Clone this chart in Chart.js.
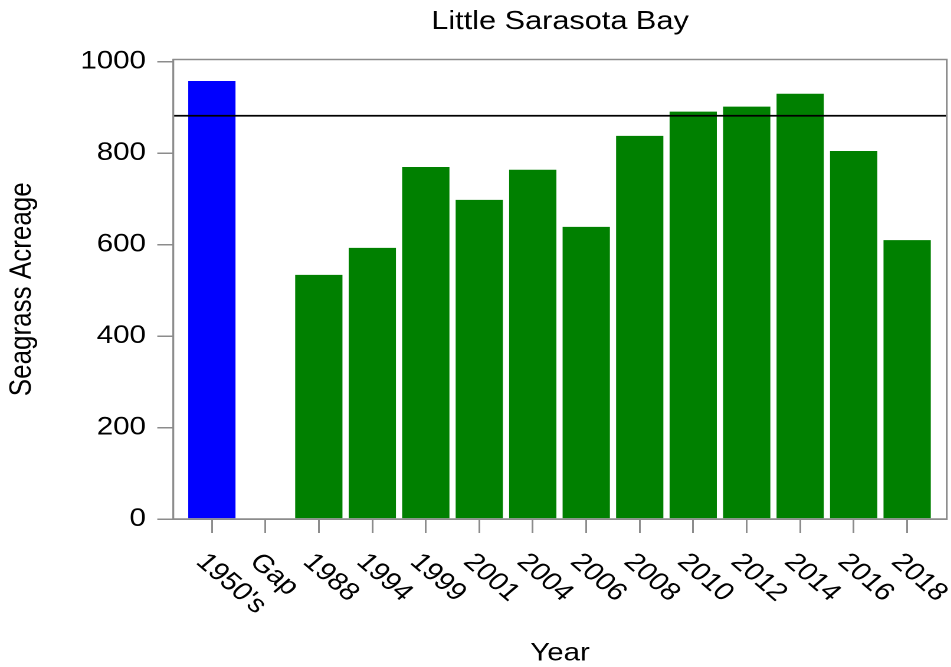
<!DOCTYPE html>
<html>
<head>
<meta charset="utf-8">
<script src="https://cdn.jsdelivr.net/npm/chart.js@4"></script>
<style>
  html, body { margin: 0; padding: 0; background: #fff; overflow: hidden; }
  #wrap { width: 806px; height: 667px; transform: scaleX(1.18); transform-origin: 0 0; }
  canvas { display: block; }
</style>
</head>
<body>
<div id="wrap"><canvas id="c" width="806" height="667"></canvas></div>
<script>
// ---- data ----
const categories = ["1950's", "Gap", "1988", "1994", "1999", "2001", "2004", "2006", "2008", "2010", "2012", "2014", "2016", "2018"];
const acreage = [958, null, 534, 593, 770, 698, 764, 639, 838, 891, 902, 930, 805, 610];
const targetAcreage = 882;
const yTickValues = [0, 200, 400, 600, 800, 1000];
const chartTitle = "Little Sarasota Bay";
const xAxisTitle = "Year";
const yAxisTitle = "Seagrass Acreage";

// ---- styles ----
const FONT = "'Liberation Sans', Arial, sans-serif";
const HIST_COLOR = '#0000FF';
const SURVEY_COLOR = '#008000';
const AXIS_GRAY = '#8c8c8c';

const barColors = categories.map(c => c === "1950's" ? HIST_COLOR : SURVEY_COLOR);

const decorPlugin = {
  id: 'decor',
  afterDatasetsDraw(chart) {
    const { ctx, chartArea: a, scales } = chart;
    ctx.save();
    // target line
    const ty = scales.y.getPixelForValue(targetAcreage);
    ctx.strokeStyle = '#000';
    ctx.lineWidth = 1.8;
    ctx.beginPath();
    ctx.moveTo(a.left, ty);
    ctx.lineTo(a.right, ty);
    ctx.stroke();
    // frame
    ctx.strokeStyle = AXIS_GRAY;
    ctx.lineWidth = 1.5;
    ctx.strokeRect(a.left, a.top, a.right - a.left, a.bottom - a.top);
    // rotated x labels (reading down-right)
    ctx.fillStyle = '#000';
    ctx.font = '25px ' + FONT;
    ctx.textAlign = 'left';
    ctx.textBaseline = 'middle';
    categories.forEach((lab, i) => {
      const px = scales.x.getPixelForValue(i);
      ctx.save();
      ctx.translate(px - 9.5, a.bottom + 39);
      ctx.rotate(Math.PI / 4);
      ctx.fillText(lab, 0, 0);
      ctx.restore();
    });
    ctx.restore();
  }
};

new Chart(document.getElementById('c'), {
  type: 'bar',
  data: {
    datasets: [{
      data: categories.map((c, i) => ({ x: i, y: acreage[i] })),
      backgroundColor: barColors,
      borderWidth: 0,
      categoryPercentage: 1.0,
      barPercentage: 0.884
    }]
  },
  options: {
    responsive: false,
    animation: false,
    devicePixelRatio: 2,
    layout: { padding: { left: 0, right: 3.7, top: 0, bottom: 0 } },
    plugins: {
      legend: { display: false },
      tooltip: { enabled: false },
      title: {
        display: true,
        fullSize: false,
        text: chartTitle,
        color: '#000',
        font: { family: FONT, size: 26, weight: 'normal' },
        padding: { top: 6, bottom: 22.3 }
      }
    },
    scales: {
      x: {
        type: 'linear',
        offset: false,
        min: -0.72,
        max: 13.74,
        afterBuildTicks: s => { s.ticks = categories.map((c, i) => ({ value: i })); },
        afterFit: s => { s.height = 148; },
        ticks: { display: false },
        grid: { display: true, offset: false, drawOnChartArea: false, drawTicks: true, tickLength: 14, color: AXIS_GRAY, lineWidth: 1.5 },
        border: { display: true, color: AXIS_GRAY, width: 1.5 },
        title: {
          display: true, text: xAxisTitle, color: '#000',
          font: { family: FONT, size: 25, lineHeight: 1 },
          padding: { top: 0, bottom: 1 }
        }
      },
      y: {
        min: 0,
        max: 1005,
        afterBuildTicks: s => { s.ticks = yTickValues.map(v => ({ value: v })); },
        afterFit: s => { s.width = 146.9; },
        ticks: { color: '#000', font: { family: FONT, size: 25 }, padding: 9.6, callback: v => String(v) },
        grid: { display: true, drawOnChartArea: false, drawTicks: true, tickLength: 13.6, color: AXIS_GRAY, lineWidth: 1.5 },
        border: { display: true, color: AXIS_GRAY, width: 1.5 },
        title: {
          display: true, text: yAxisTitle, color: '#000',
          font: { family: FONT, size: 26, lineHeight: 1 },
          padding: { top: 5.6, bottom: 0 }
        }
      }
    }
  },
  plugins: [decorPlugin]
});
</script>
</body>
</html>
